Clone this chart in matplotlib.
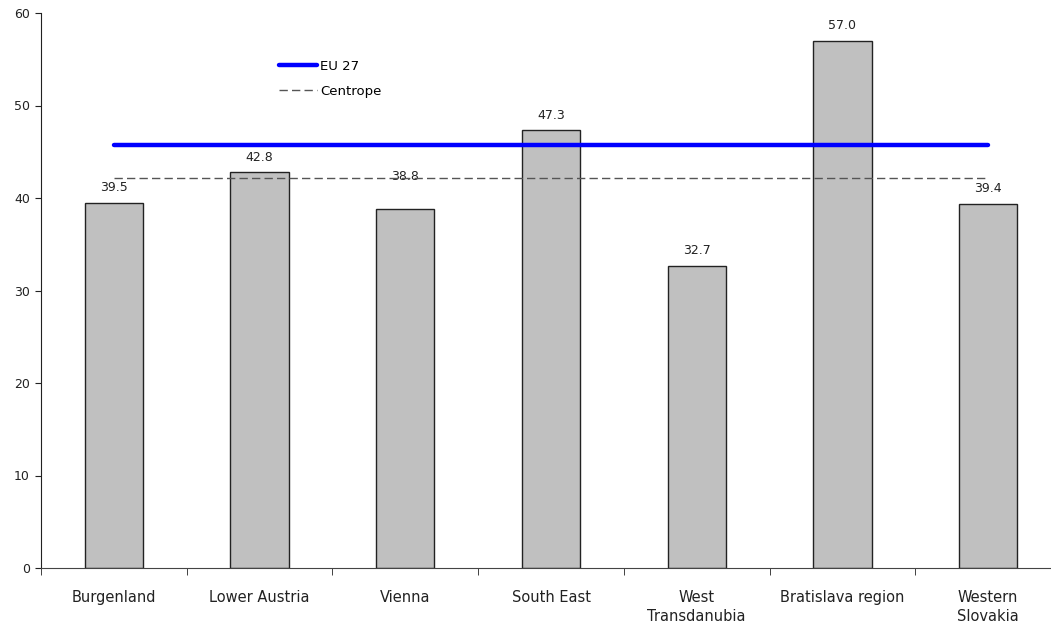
import matplotlib
matplotlib.use("Agg")
from matplotlib import pyplot as plt
import numpy as np

regions = ['Burgenland', 'Lower Austria', 'Vienna', 'South East',
           'West\nTransdanubia', 'Bratislava region', 'Western\nSlovakia']
values = [39.5, 42.8, 38.8, 47.3, 32.7, 57.0, 39.4]
eu27 = 45.7
centrope = 42.2
yticks = [0, 10, 20, 30, 40, 50, 60]

plt.rcParams['font.family'] = ['DejaVu Sans']

fig = plt.figure(figsize=(10.51, 6.32), dpi=100)
# axis runs off the right edge of the picture like in the original
ax = fig.add_axes([41 / 1051, 64 / 632, 1020 / 1051, 555 / 632])

x = np.arange(len(regions))
ax.bar(x, values, width=0.4, color='#c0c0c0', edgecolor='#222222', linewidth=1, zorder=2)

# value labels (Vienna label sits higher in the original)
offsets = [6, 6, 19, 6, 6, 6, 6]
for xi, v, off in zip(x, values, offsets):
    ax.annotate(f'{v:.1f}', (xi, v), xytext=(0, off), textcoords='offset points',
                ha='center', va='bottom', fontsize=9, color='#222222')

ax.plot([x[0], x[-1]], [eu27, eu27], color='#0000ff', linewidth=3.2,
        solid_capstyle='round', label='EU 27', zorder=3)
ax.plot([x[0], x[-1]], [centrope, centrope], color='#555555', linewidth=1,
        dashes=(6, 3), label='Centrope', zorder=3)

ax.set_xlim(-0.5, len(regions) - 0.5)
ax.set_ylim(0, 60)
ax.set_yticks(yticks)
ax.tick_params(axis='y', direction='out', length=4, labelsize=9, colors='#222222', pad=4)

ax.set_xticks(x)
ax.set_xticklabels(regions, fontsize=10.5, color='#222222', linespacing=1.3)
ax.set_xticks(np.arange(len(regions) + 1) - 0.5, minor=True)
ax.tick_params(axis='x', which='major', length=0, pad=16)
ax.tick_params(axis='x', which='minor', direction='out', length=5, color='#222222')

for s in ['top', 'right']:
    ax.spines[s].set_visible(False)
ax.spines['left'].set_color('#222222')
ax.spines['bottom'].set_color('#444444')

ax.legend(loc='upper left', bbox_to_anchor=((279 - 41) / 1020, (568 - 60) / 555),
          frameon=False, fontsize=9.5, handlelength=2.9, handletextpad=0.2,
          labelspacing=0.9, borderpad=0, borderaxespad=0)

fig.savefig('out.png', dpi=100)
